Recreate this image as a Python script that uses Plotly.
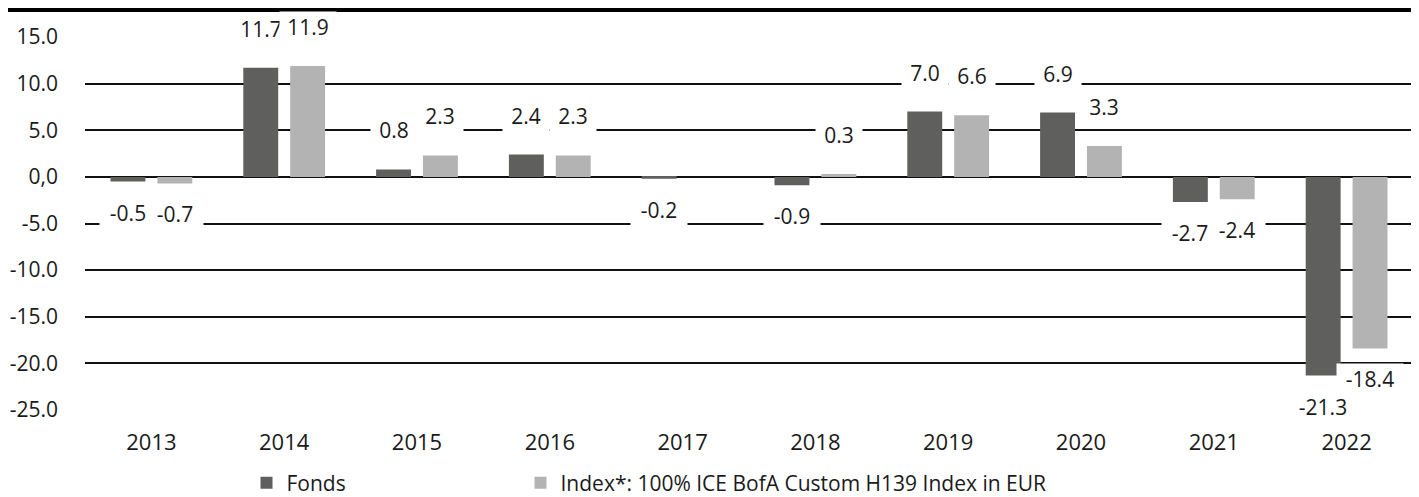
import plotly.graph_objects as go

years = ["2013", "2014", "2015", "2016", "2017", "2018", "2019", "2020", "2021", "2022"]
fonds = [-0.5, 11.7, 0.8, 2.4, -0.2, -0.9, 7.0, 6.9, -2.7, -21.3]
index_vals = [-0.7, 11.9, 2.3, 2.3, None, 0.3, 6.6, 3.3, -2.4, -18.4]
y_ticks = [-25, -20, -15, -10, -5, 0, 5, 10, 15]
y_ticktext = ["-25.0", "-20.0", "-15.0", "-10.0", "-5.0", "0,0", "5.0", "10.0", "15.0"]

series_names = ["Fonds", "Index*: 100% ICE BofA Custom H139 Index in EUR"]
colors = ["#5f5f5e", "#b3b3b3"]
legend_ids = ["legend", "legend2"]

FONT = "Open Sans"
TXT = "#1a1a1a"
FS = 21
XFS = 22
xpos = list(range(len(years)))
bw = 0.263
offsets = [-0.308, 0.045]

# page has an 8px body margin: figure is shrunk so the plot area lands where the reference has it
W, H = 1411, 489
L, R, T, B = 77, 6, 29, 87
PW, PH = W - L - R, H - T - B

fig = go.Figure()
for vals, name, col, off, lg in zip([fonds, index_vals], series_names, colors, offsets, legend_ids):
    fig.add_trace(go.Bar(
        x=xpos, y=vals, name=name, marker=dict(color=col, line=dict(width=0)),
        width=bw, offset=off, hoverinfo="skip", legend=lg, showlegend=True,
    ))

annotations = []
for vals, off in zip([fonds, index_vals], offsets):
    for i, v in enumerate(vals):
        if v is None:
            continue
        txt = f"{v:.1f}"
        annotations.append(dict(
            x=i + off + bw / 2, y=v, xref="x", yref="y",
            text=txt, showarrow=False,
            yshift=39 if v >= 0 else -31,
            bgcolor="white", borderpad=1,
            width=len(txt) * 10 + 14,
            font=dict(family=FONT, size=FS, color=TXT),
        ))

leg_common = dict(
    orientation="h", xanchor="left", y=-0.196, yanchor="middle",
    font=dict(size=FS, family=FONT, color=TXT), bgcolor="rgba(0,0,0,0)",
)

top_line_y = 8.5 - 8  # page px -> figure px
fig.update_layout(
    width=W, height=H,
    margin=dict(l=L, r=R, t=T, b=B, autoexpand=False),
    paper_bgcolor="white", plot_bgcolor="white",
    barmode="overlay", showlegend=True,
    font=dict(family=FONT, size=FS, color=TXT),
    xaxis=dict(
        range=[-0.5, 9.5], tickvals=xpos, ticktext=years,
        showgrid=False, zeroline=False, showline=False, ticks="",
        ticklabelstandoff=17, tickfont=dict(size=XFS, family=FONT, color=TXT),
    ),
    yaxis=dict(
        range=[-25, 15], tickvals=y_ticks, ticktext=y_ticktext,
        showgrid=True, gridcolor="#111111", gridwidth=2,
        zeroline=True, zerolinecolor="#111111", zerolinewidth=2,
        showline=False, ticks="", ticklabelstandoff=26,
        tickfont=dict(size=FS, family=FONT, color=TXT),
    ),
    legend=dict(x=(246.5 - 85) / PW, **leg_common),
    legend2=dict(x=(520.5 - 85) / PW, **leg_common),
    annotations=annotations,
    shapes=[dict(
        type="line", xref="paper", yref="paper",
        x0=(0 - L) / PW, x1=(W + 5 - L) / PW,
        y0=(T + PH - top_line_y) / PH, y1=(T + PH - top_line_y) / PH,
        line=dict(color="black", width=7),
    )],
)

fig.write_html("out.html")
